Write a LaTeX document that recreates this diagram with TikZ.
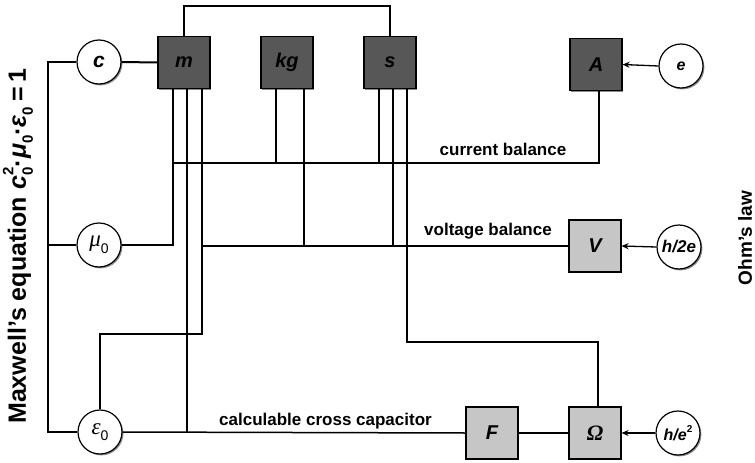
\documentclass[tikz,border=0pt]{standalone}
\usepackage{fontspec}
\setmainfont{Liberation Sans}
\newfontfamily\serifgr{Liberation Serif}
\usetikzlibrary{shadows,arrows.meta}
\definecolor{boxdark}{HTML}{575757}
\definecolor{boxlight}{HTML}{C6C6C6}
\newcommand{\mysub}[2]{\raisebox{-0.28em}{\fontsize{#1}{#1}\selectfont\upshape #2}}
\newcommand{\mysup}[2]{\raisebox{0.5em}{\fontsize{#1}{#1}\selectfont\upshape #2}}
\newcommand{\mysubsup}[3]{\rlap{\mysub{#1}{#2}}\mysup{#1}{#3}}
\begin{document}
\begin{tikzpicture}[x=1pt,y=-1pt,
  shad/.style={drop shadow={shadow xshift=1.4pt,shadow yshift=-1.4pt,fill=black,opacity=0.45}},
  dbox/.style={shad,draw=black,line width=1.1pt,fill=boxdark,minimum width=52pt,minimum height=52pt,inner sep=0pt,
    font=\fontsize{20}{20}\selectfont\bfseries\itshape},
  lbox/.style={dbox,fill=boxlight},
  cnode/.style={shad,circle,draw=black,line width=1.2pt,fill=white,minimum size=44pt,inner sep=0pt,
    font=\fontsize{21}{21}\selectfont\bfseries\itshape},
  thk/.style={line width=2pt},
  thn/.style={line width=1.5pt},
  arr/.style={line width=1.3pt,-{Stealth[length=7pt,width=6pt]}},
  lbl/.style={font=\fontsize{17}{17}\selectfont\bfseries,inner sep=0pt}]
\useasboundingbox (0,0) rectangle (755,463);
% circles
\node[cnode] (c) at (99,62) {c};
\node[cnode,font=\fontsize{23}{23}\selectfont] (mu) at (99,245) {{\serifgr\itshape μ}\mysub{14}{0}};
\node[cnode,font=\fontsize{23}{23}\selectfont] (eps) at (100,432) {{\serifgr\itshape ε}\mysub{14}{0}};
\node[cnode,font=\fontsize{16}{16}\selectfont\bfseries\itshape] (e) at (681,66) {e};
\node[cnode,font=\fontsize{17}{17}\selectfont\bfseries\itshape] (h2e) at (679,247) {h/2e};
\node[cnode,font=\fontsize{16}{16}\selectfont\bfseries\itshape] (he2) at (678,433) {h/e\mysup{10}{2}};
% boxes
\node[dbox] (m) at (184,62.5) {m};
\node[dbox] (kg) at (287,62.5) {kg};
\node[dbox] (s) at (390,62.5) {s};
\node[dbox] (A) at (596,64.5) {A};
\node[lbox] (V) at (595,246) {V};
\node[lbox] (F) at (492,433) {F};
\node[lbox,font=\fontsize{22}{22}\selectfont\serifgr\bfseries\itshape] (Om) at (595,433) {Ω};
% helper coordinates
\coordinate (cbL) at (173,163);
\coordinate (vbL) at (202,246);
\coordinate (epsbend) at (100,334);
\coordinate (ombend) at (407,342);
\coordinate (Lx) at (48,62);
% left bus
\draw[thn] (c.west) -- (Lx) |- (eps.west);
\draw[thn] (mu.west) -- (mu.west -| Lx);
% c - m
\draw[thk] (c.east) -- (m.west);
% top link m - s
\draw[thk] (m.north) -- ++(0,-30) -| (s.north);
% m lines
\draw[thk] ([xshift=-11pt]m.south) |- (mu.east);
\draw[thn] ([xshift=3pt]m.south) -- ([xshift=3pt]m.south |- eps.east);
\draw[thn] ([xshift=18pt]m.south) |- (epsbend) -- (eps.north);
% kg lines
\draw[thk] ([xshift=-11pt]kg.south) -- ([xshift=-11pt]kg.south |- cbL);
\draw[thn] ([xshift=17pt]kg.south) -- ([xshift=17pt]kg.south |- vbL);
% s lines
\draw[thk] ([xshift=-11pt]s.south) -- ([xshift=-11pt]s.south |- cbL);
\draw[thn] ([xshift=3pt]s.south) -- ([xshift=3pt]s.south |- vbL);
\draw[thn] ([xshift=17pt]s.south) |- ([xshift=3pt]Om.north |- ombend) -- ([xshift=3pt]Om.north);
% current balance
\draw[thk] (cbL) -| ([xshift=3pt]A.south);
% voltage balance
\draw[thn] (vbL) -- (V.west);
% capacitor
\draw[thn] (eps.east) -- (F.west);
\draw[thn] (F.east) -- (Om.west);
% arrows
\draw[arr] (e.west) -- (A.east);
\draw[arr] (h2e.west) -- (V.east);
\draw[arr] (he2.west) -- (Om.east);
% labels
\node[lbl] (curlbl) at (503,149) {current balance};
\node[lbl] (vollbl) at (488,231) {voltage balance};
\node[lbl] (caplbl) at (325.5,421) {calculable cross capacitor};
\node[rotate=90,font=\fontsize{25}{25}\selectfont\bfseries,inner sep=0pt,anchor=west] (maxw) at (18,424)
  {Maxwell's equation\hspace{0.3em}{\itshape c}\mysubsup{15}{0}{2}·{\itshape μ}\mysub{15}{0}·{\itshape ε}\mysub{15}{0}\kern0.2em=\kern0.2em1};
\node[rotate=90,font=\fontsize{19}{19}\selectfont\bfseries,inner sep=0pt] (ohm) at (745,238) {Ohm's law};
\end{tikzpicture}
\end{document}
